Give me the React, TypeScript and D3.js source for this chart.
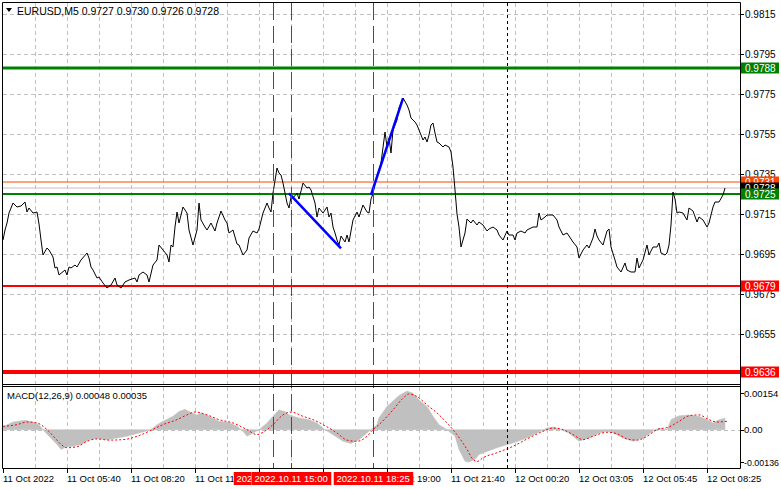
import React from 'react';
import * as d3 from 'd3';

const headerText = 'EURUSD,M5 0.9727 0.9730 0.9726 0.9728';
const macdText = 'MACD(12,26,9) 0.00048 0.00035';

const priceBars = [0,1,2,3,5,7,9,11,12,13,15,17,18,19,20,22,23,25,26,27,28,31,32,33,34,36,37,39,42,43,44,45,47,48,50,52,54,56,57,59,61,63,66,67,68,70,72,73,75,77,78,80,82,83,84,85,86,87,88,90,92,93,95,97,98,99,101,102,104,106,107,109,111,112,113,115,117,118,120,122,123,125,127,128,130,132,133,134,135,137,138,139,140,141,142,143,144,145,147,148,150,152,153,154,156,157,158,160,162,163,164,165,166,167,168,169,171,172,173,175,177,178,180,182,183,184,185,186,187,189,191,192,193,194,195,197,198,200,202,203,204,206,207,209,210,211,212,213,214,215,216,217,218,220,221,223,224,225,226,227,228,229,231,232,234,235,237,238,240,242,243,245,247,248,250,252,253,255,256,257,259,261,262,265,267,268,269,271,272,275,277,278,280,282,283,285,287,288,290,292,293,295,296,297,298,300,302,303,304,306,307,309,311,312,314,316,317,318,320,322,323,325,327,328,329,331,332,333,334,335,336,337,338,340,342,343,345,347,348,350,352,353,355,356,358,360,361];
const priceClose = [0.9702,0.9707,0.97105,0.97155,0.97205,0.97185,0.9719,0.9721,0.9716,0.9718,0.97155,0.9716,0.971,0.9702,0.96945,0.9698,0.9697,0.96935,0.9688,0.96885,0.96845,0.9687,0.96845,0.96885,0.9688,0.96895,0.96885,0.9692,0.96955,0.9693,0.96885,0.9687,0.9683,0.96835,0.96805,0.9678,0.96795,0.9683,0.96795,0.9678,0.9681,0.9682,0.9683,0.9681,0.96845,0.9686,0.96845,0.9681,0.96895,0.9692,0.96995,0.9697,0.96945,0.9691,0.96995,0.96985,0.97085,0.9716,0.97105,0.97185,0.97155,0.9707,0.96995,0.9707,0.97205,0.9712,0.97085,0.9707,0.97105,0.97065,0.97105,0.97165,0.9712,0.97105,0.97055,0.9707,0.97,0.96995,0.96945,0.9697,0.9703,0.97065,0.97055,0.97075,0.97155,0.97205,0.9718,0.9716,0.97255,0.9738,0.97355,0.97345,0.97305,0.97255,0.97205,0.9718,0.97235,0.9723,0.97255,0.97225,0.97305,0.9728,0.97285,0.9727,0.97205,0.97135,0.9718,0.97155,0.97185,0.97135,0.97155,0.97085,0.97055,0.9702,0.96995,0.9704,0.9701,0.97045,0.9701,0.9712,0.9716,0.97135,0.97195,0.9716,0.97155,0.97225,0.9725,0.97305,0.97335,0.97405,0.9756,0.97485,0.9753,0.97455,0.9757,0.9762,0.9768,0.9773,0.97695,0.9767,0.9763,0.9761,0.97595,0.97545,0.9752,0.97535,0.9751,0.97545,0.97595,0.97605,0.97555,0.9751,0.97505,0.97485,0.97495,0.97485,0.9746,0.97385,0.9727,0.9715,0.97085,0.96985,0.97055,0.97125,0.97105,0.9712,0.97095,0.9711,0.97095,0.97065,0.97075,0.97085,0.9707,0.97045,0.9702,0.97065,0.97045,0.97045,0.9702,0.97055,0.97065,0.97055,0.9707,0.97085,0.97085,0.97155,0.9712,0.97135,0.97145,0.97145,0.9712,0.97085,0.97045,0.97055,0.9704,0.9701,0.96985,0.9693,0.9697,0.96995,0.9698,0.9703,0.97075,0.9704,0.9702,0.96995,0.97065,0.97075,0.96985,0.9692,0.96885,0.9686,0.96905,0.9687,0.9686,0.9686,0.9693,0.9688,0.9692,0.96995,0.96945,0.96985,0.96985,0.97005,0.96955,0.96945,0.96955,0.96995,0.97095,0.9726,0.97225,0.97155,0.9716,0.97155,0.9712,0.9718,0.97165,0.9711,0.97135,0.9712,0.97085,0.97105,0.97185,0.9721,0.9721,0.97245,0.9728];

const macdBars = [0,5,11,15,18,20,23,27,29,32,35,39,43,47,52,57,62,68,74,77,80,85,88,91,93,97,99,103,108,113,117,120,122,125,128,132,135,138,141,143,148,153,157,161,165,170,174,178,183,187,188,192,198,202,205,208,212,215,218,222,226,228,231,233,236,238,247,255,262,268,272,275,279,283,288,293,298,302,305,310,315,320,325,328,332,334,338,343,348,352,355,358,361];
const macdMain = [0.000125,0.00032,0.00039,0.00032,0.00021,0,-0.00028,-0.00062,-0.00083,-0.00072,-0.0007,-0.00062,-0.00042,-0.00037,-0.00042,-0.00035,-0.00028,-0.00014,0,0.00021,0.00035,0.00056,0.00076,0.00086,0.00076,0.00062,0.0007,0.00056,0.00035,0.0003,0.00014,-0.00007,-0.00028,-0.00014,0,0.00028,0.00056,0.00083,0.00076,0.00062,0.00049,0.00042,0.00028,0,-0.00021,-0.00049,-0.00058,-0.00042,-0.00007,0.00021,0.0005,0.00097,0.00143,0.00162,0.00153,0.00125,0.00097,0.00056,0.00021,0,-0.00028,-0.00083,-0.00133,-0.00136,-0.00125,-0.00104,-0.00076,-0.00056,-0.00035,-0.0001,0.00007,0.00011,0,-0.00014,-0.00049,-0.00035,-0.00014,-0.00007,-0.00014,-0.00035,-0.00049,-0.00035,-0.00007,0.00007,0,0.00042,0.00058,0.00062,0.00056,0.00042,0.00028,0.00042,0.00048];

const signalBars = [0,7,12,17,22,26,29,32,37,42,47,53,60,67,73,80,87,92,96,102,108,115,122,127,130,135,140,144,150,155,160,167,172,177,182,185,188,195,200,203,207,212,217,222,227,232,235,237,240,247,255,263,270,275,280,285,290,295,302,307,312,317,322,327,333,338,343,348,353,357,362];
const signalValues = [0.00014,0.00021,0.00032,0.00028,0,-0.00035,-0.00062,-0.00076,-0.00072,-0.00049,-0.00039,-0.00044,-0.00042,-0.00028,-0.00007,0.00021,0.00042,0.00062,0.00074,0.00062,0.00042,0.00028,0,-0.00021,-0.00011,0.00021,0.00062,0.00074,0.00056,0.00042,0.00021,-0.00014,-0.00044,-0.00049,-0.00028,0,0.00021,0.00083,0.00132,0.0015,0.00139,0.00104,0.0007,0.00028,-0.00021,-0.00083,-0.00125,-0.00134,-0.00118,-0.00097,-0.0007,-0.00035,-0.00007,0.00007,0,-0.00021,-0.00042,-0.00028,-0.00011,-0.00017,-0.00039,-0.00044,-0.00028,0,0.00011,0.00035,0.00058,0.00062,0.00042,0.00032,0.00035];

const priceTicks = [0.9815, 0.9795, 0.9775, 0.9755, 0.9735, 0.9715, 0.9695, 0.9675, 0.9655];
const macdTicks = [0.00154, 0, -0.00136];
const macdTickLabels = ['0.00154', '0.00', '-0.00136'];

const timeLabelBars = [0, 32, 64, 96, 128, 160, 192, 224, 256, 288, 320, 352];
const timeLabels = ['11 Oct 2022', '11 Oct 05:40', '11 Oct 08:20', '11 Oct 11:00', '11 Oct 13:40', '11 Oct 16:20', '11 Oct 19:00', '11 Oct 21:40', '12 Oct 00:20', '12 Oct 03:05', '12 Oct 05:45', '12 Oct 08:25'];

const levelNames = ['r2', 'orange', 'bid', 'g1', 's1', 's2'];
const levelPrices = [0.9788, 0.9731, 0.9728, 0.9725, 0.9679, 0.9636];

const eventBars = [135, 144, 185];
const eventLabels = ['2022.10.11 14:15', '2022.10.11 15:00', '2022.10.11 18:25'];
const cursorBar = 252;

const trendBars = [[143, 169], [184, 200]];
const trendPrices = [[0.97253, 0.96978], [0.97245, 0.97728]];

const FONT = "'Liberation Sans', Arial, sans-serif";
const FS = 9.5;

const levelStyle: Record<string, { color: string; width: number; box: string }> = {
  r2: { color: '#008000', width: 3, box: '#008000' },
  orange: { color: '#ff4500', width: 1, box: '#ff4500' },
  bid: { color: '#c0c0c0', width: 1, box: '#000000' },
  g1: { color: '#008000', width: 2, box: '#008000' },
  s1: { color: '#ff0000', width: 2, box: '#ff0000' },
  s2: { color: '#ff0000', width: 4, box: '#ff0000' },
};

function visibleParts(a: number, b: number, covers: [number, number][]): [number, number][] {
  let parts: [number, number][] = [[a, b]];
  covers.forEach(([c0, c1]) => {
    const next: [number, number][] = [];
    parts.forEach(([p0, p1]) => {
      if (c1 <= p0 || c0 >= p1) { next.push([p0, p1]); return; }
      if (c0 > p0) next.push([p0, c0]);
      if (c1 < p1) next.push([c1, p1]);
    });
    parts = next;
  });
  return parts.filter(p => p[1] - p[0] > 2);
}

export default function App() {
  const W = 781, H = 489;
  const L = 3, R = 740, T = 3, MB = 384, MT = 387, BB = 468;
  const x = d3.scaleLinear().domain([0, 368.5]).range([L, R]);
  const y = d3.scaleLinear().domain([0.9655, 0.9815]).range([334, 14]);
  const ym = d3.scaleLinear().domain([-0.00136, 0.00154]).range([462, 393]);

  const pricePts = priceBars.map((b, i) => [b, priceClose[i]] as [number, number]);
  const priceLine = d3.line<[number, number]>().x(d => x(d[0])).y(d => y(d[1]))(pricePts) || '';

  const macdPts = macdBars.map((b, i) => [b, macdMain[i]] as [number, number]);
  const macdArea = d3.area<[number, number]>().x(d => x(d[0])).y0(ym(0)).y1(d => ym(d[1]))(macdPts) || '';
  const sigPts = signalBars.map((b, i) => [b, signalValues[i]] as [number, number]);
  const sigLine = d3.line<[number, number]>().x(d => x(d[0])).y(d => ym(d[1])).curve(d3.curveMonotoneX)(sigPts) || '';

  const gridBars = d3.range(16, 368, 16);
  const grid = '#c0c0c0';
  const levelOrder = [0, 4, 5, 1, 2, 3];

  const boxes: [number, number][] = eventBars.map(b => {
    const cx = Math.round(x(b)) + 0.5;
    return [cx - 40, cx + 40];
  });
  const labelWidth = 56;
  const tlParts = timeLabelBars.map(b => {
    const x0 = Math.round(x(b));
    return visibleParts(x0 - 1, x0 + labelWidth + 6, boxes);
  });
  const elParts = boxes.map((bx, i) => visibleParts(bx[0], bx[1], boxes.slice(i + 1)));

  return (
    <svg width={W} height={H} style={{ position: 'absolute', left: 0, top: 0, background: '#fff' }} fontFamily={FONT} fontSize={FS}>
      <rect x={0} y={0} width={W} height={H} fill="#fff" />
      <defs>
        <clipPath id="mainClip"><rect x={L} y={T} width={R - L} height={MB - T} /></clipPath>
        <clipPath id="macdClip"><rect x={L} y={MT} width={R - L} height={BB - MT} /></clipPath>
        {tlParts.map((parts, i) => (
          <clipPath id={'tlc' + i} key={'tlc' + i}>
            {parts.map((p, k) => <rect key={k} x={p[0]} y={470} width={p[1] - p[0]} height={18} />)}
          </clipPath>
        ))}
        {elParts.map((parts, i) => (
          <clipPath id={'elc' + i} key={'elc' + i}>
            {parts.map((p, k) => <rect key={k} x={p[0]} y={470} width={p[1] - p[0]} height={18} />)}
          </clipPath>
        ))}
      </defs>
      {gridBars.map(b => (
        <line key={'gv' + b} x1={Math.round(x(b)) + 0.5} x2={Math.round(x(b)) + 0.5} y1={T} y2={MB} stroke={grid} strokeDasharray="4,3" />
      ))}
      {priceTicks.map(p => (
        <line key={'gh' + p} x1={L} x2={R} y1={Math.round(y(p)) + 0.5} y2={Math.round(y(p)) + 0.5} stroke={grid} strokeDasharray="4,3" />
      ))}
      {gridBars.map(b => (
        <line key={'gmv' + b} x1={Math.round(x(b)) + 0.5} x2={Math.round(x(b)) + 0.5} y1={MT} y2={BB} stroke={grid} strokeDasharray="4,3" />
      ))}
      <line x1={L} x2={R} y1={Math.round(ym(0)) + 0.5} y2={Math.round(ym(0)) + 0.5} stroke={grid} strokeDasharray="4,3" />

      <g clipPath="url(#mainClip)">
        {levelPrices.map((p, i) => {
          const s = levelStyle[levelNames[i]];
          return <line key={'lv' + i} x1={L} x2={R} y1={y(p)} y2={y(p)} stroke={s.color} strokeWidth={s.width} />;
        })}
        <path d={priceLine} fill="none" stroke="#000" strokeWidth={1} />
        {trendBars.map((tb, i) => (
          <line key={'tr' + i} x1={x(tb[0])} x2={x(tb[1])} y1={y(trendPrices[i][0])} y2={y(trendPrices[i][1])} stroke="#0000ff" strokeWidth={2.5} />
        ))}
      </g>

      <g clipPath="url(#macdClip)">
        <path d={macdArea} fill="#c0c0c0" stroke="#c0c0c0" strokeWidth={0.5} />
        <path d={sigLine} fill="none" stroke="#ff0000" strokeWidth={1} strokeDasharray="2,2" />
      </g>

      {eventBars.map(b => (
        <line key={'ev' + b} x1={Math.round(x(b)) + 0.5} x2={Math.round(x(b)) + 0.5} y1={T} y2={BB} stroke="#ff0000" strokeWidth={1} strokeDasharray="17,6" />
      ))}
      <line x1={Math.round(x(cursorBar)) + 0.5} x2={Math.round(x(cursorBar)) + 0.5} y1={T} y2={BB} stroke="#000" strokeWidth={1} strokeDasharray="3,3" />

      <line x1={2.5} x2={R + 0.5} y1={2.5} y2={2.5} stroke="#000" />
      <line x1={2.5} x2={2.5} y1={2.5} y2={BB + 0.5} stroke="#000" />
      <line x1={R + 0.5} x2={R + 0.5} y1={2.5} y2={BB + 0.5} stroke="#000" />
      <line x1={2.5} x2={R + 0.5} y1={MB + 0.5} y2={MB + 0.5} stroke="#000" />
      <line x1={2.5} x2={R + 0.5} y1={MT - 0.5} y2={MT - 0.5} stroke="#000" />
      <line x1={2.5} x2={R + 0.5} y1={BB + 0.5} y2={BB + 0.5} stroke="#000" />

      <path d="M6,8 L12,8 L9,12 Z" fill="#000" />
      <text x={17} y={11} dominantBaseline="central" fill="#000" fontSize={10.5}>{headerText}</text>
      <text x={7} y={395} dominantBaseline="central" fill="#000">{macdText}</text>

      {priceTicks.map(p => (
        <g key={'pt' + p}>
          <line x1={R} x2={R + 4} y1={Math.round(y(p)) + 0.5} y2={Math.round(y(p)) + 0.5} stroke="#000" />
          <text x={745} y={y(p)} dominantBaseline="central" fill="#000" fontSize={10}>{p.toFixed(4)}</text>
        </g>
      ))}
      {macdTicks.map((v, i) => (
        <g key={'mt' + i}>
          <line x1={R} x2={R + 4} y1={Math.round(ym(v)) + 0.5} y2={Math.round(ym(v)) + 0.5} stroke="#000" />
          <text x={744} y={ym(v)} dominantBaseline="central" fill="#000"
            {...(macdTickLabels[i].length > 7 ? { textLength: 35, lengthAdjust: 'spacingAndGlyphs' } : {})}>{macdTickLabels[i]}</text>
        </g>
      ))}
      {levelOrder.map(i => {
        const p = levelPrices[i];
        const s = levelStyle[levelNames[i]];
        const cy = y(p);
        return (
          <g key={'lb' + i}>
            <rect x={R + 1} y={cy - 5.5} width={38} height={11} fill={s.box} />
            <text x={745} y={cy} dominantBaseline="central" fill="#fff" fontSize={10}>{p.toFixed(4)}</text>
          </g>
        );
      })}

      {timeLabelBars.map((b, i) => (
        <g key={'tl' + b}>
          <line x1={Math.round(x(b)) + 0.5} x2={Math.round(x(b)) + 0.5} y1={BB} y2={BB + 5} stroke="#000" />
          {tlParts[i].length > 0 && (
            <text x={Math.round(x(b))} y={478.5} dominantBaseline="central" fill="#000" clipPath={`url(#tlc${i})`}>{timeLabels[i]}</text>
          )}
        </g>
      ))}
      {eventBars.map((b, i) => {
        const cx = Math.round(x(b)) + 0.5;
        return (
          <g key={'el' + b} clipPath={`url(#elc${i})`}>
            <rect x={cx - 40} y={472} width={80} height={13} fill="#ff0000" />
            <text x={cx - 37} y={478.5} dominantBaseline="central" fill="#fff">{eventLabels[i]}</text>
          </g>
        );
      })}
    </svg>
  );
}
